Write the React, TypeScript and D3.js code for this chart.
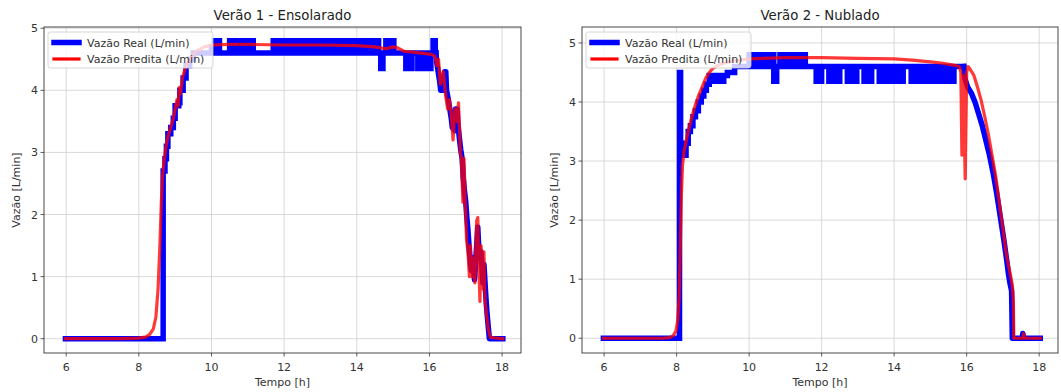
import React from 'react'
import * as d3 from 'd3'

// [t (h), L/min]. Trechos "Step": o valor vale até o ponto seguinte; trechos "Fall": linha contínua.
// Verão 1 - Ensolarado : vazão real
const realSolStep: [number, number][] = [
  [5.98,0],[8.67,2.7],[8.72,2.9],[8.76,3.1],[8.8,3.3],[8.88,3.4],[8.95,3.55],[9.0,3.75],[9.1,3.8],[9.13,4.0],
  [9.22,4.2],[9.3,4.4],[9.4,4.5],[9.5,4.6],[9.85,4.6],[10.0,4.7],
  [10.08,4.8],[10.13,4.6],[10.17,4.8],[10.22,4.6],
  [10.5,4.8],[10.6,4.6],[10.7,4.8],[10.8,4.6],[10.9,4.8],[11.0,4.6],[11.08,4.8],[11.15,4.6],
  [11.7,4.8],[11.8,4.6],[11.9,4.8],[12.0,4.6],[12.1,4.8],[12.2,4.6],[12.3,4.8],[12.4,4.6],[12.5,4.8],[12.6,4.6],[12.68,4.8],[12.76,4.6],
  [12.9,4.8],[13.0,4.6],[13.1,4.8],[13.2,4.6],[13.3,4.8],[13.4,4.6],[13.5,4.8],[13.6,4.6],[13.7,4.8],[13.8,4.6],
  [13.9,4.8],[14.0,4.6],[14.1,4.8],[14.2,4.6],[14.3,4.8],[14.4,4.6],[14.5,4.8],[14.6,4.6],
  [14.66,4.35],[14.72,4.6],[14.8,4.8],[14.88,4.6],[14.95,4.8],[15.02,4.6],
  [15.35,4.35],[15.42,4.6],[15.46,4.35],[15.52,4.6],
  [15.68,4.35],[15.76,4.6],[15.82,4.35],[15.9,4.6],[15.96,4.35],[16.04,4.6],[16.1,4.8],[16.16,4.6],[16.18,4.6],
]
const realSolFall: [number, number][] = [
  [16.18,4.6],[16.2,4.45],[16.24,4.3],[16.28,4.15],[16.31,4.0],[16.4,4.0],[16.42,4.3],[16.45,4.3],[16.47,4.0],[16.52,3.85],
  [16.56,3.7],[16.6,3.55],[16.63,3.4],[16.7,3.35],[16.72,3.7],[16.76,3.7],[16.78,3.5],[16.82,3.25],[16.86,3.05],[16.9,2.9],
  [16.93,2.6],[16.96,2.4],[17.0,2.2],[17.03,1.95],[17.06,1.75],[17.1,1.4],[17.15,1.1],[17.2,1.3],[17.24,0.95],[17.3,1.5],
  [17.33,1.8],[17.37,1.3],[17.42,1.4],[17.47,0.9],[17.5,1.2],[17.55,0.7],[17.58,0.45],[17.61,0.25],[17.65,0],[18.02,0],
]

// Verão 1 - Ensolarado : vazão predita
const predSol: [number, number][] = [
  [5.98,0],[7.5,0],[8.0,0.01],[8.2,0.03],[8.3,0.07],[8.4,0.16],[8.47,0.35],[8.53,0.8],[8.58,1.5],[8.62,2.2],
  [8.65,2.6],[8.7,2.9],[8.75,3.1],[8.8,3.25],[8.85,3.35],[8.9,3.45],[8.95,3.55],[9.0,3.7],[9.05,3.85],[9.08,3.75],
  [9.12,4.05],[9.15,3.95],[9.2,4.2],[9.25,4.3],[9.3,4.4],[9.4,4.5],[9.5,4.58],[9.6,4.64],[9.8,4.7],[10.0,4.73],
  [10.5,4.74],[11,4.74],[12,4.73],[13,4.73],[14,4.72],[14.5,4.7],[14.8,4.67],[15.0,4.7],[15.1,4.69],[15.3,4.63],
  [15.6,4.61],[15.9,4.59],[16.05,4.58],[16.15,4.55],[16.2,4.4],[16.25,4.5],[16.3,4.1],[16.38,4.3],[16.45,3.9],[16.5,3.7],
  [16.55,3.85],[16.6,3.6],[16.65,3.2],[16.7,3.7],[16.75,3.5],[16.8,3.8],[16.85,3.0],[16.88,2.9],[16.92,2.2],[16.95,2.9],
  [16.98,2.3],[17.02,1.6],[17.06,1.4],[17.1,1.0],[17.13,1.5],[17.17,1.0],[17.2,1.3],[17.25,0.9],[17.3,1.9],[17.33,1.95],
  [17.36,1.2],[17.39,0.6],[17.42,1.5],[17.45,1.3],[17.48,0.8],[17.5,1.4],[17.53,0.6],[17.57,0.4],[17.62,0.15],[17.68,0.02],[18.02,0],
]

// Verão 2 - Nublado : vazão real
const realNubStep: [number, number][] = [
  [5.98,0],[8.08,4.5],[8.11,3.3],[8.2,3.1],[8.26,3.3],[8.32,3.5],[8.38,3.6],[8.45,3.75],[8.52,3.85],[8.6,4.0],
  [8.68,4.1],[8.75,4.2],[8.82,4.3],[8.9,4.45],[9.0,4.35],[9.06,4.45],[9.12,4.35],[9.18,4.45],[9.24,4.35],[9.3,4.45],
  [9.4,4.5],[9.6,4.6],
  [10.0,4.8],[10.1,4.6],[10.2,4.8],[10.3,4.6],[10.4,4.8],[10.5,4.6],[10.6,4.8],[10.68,4.35],[10.76,4.6],[10.85,4.8],
  [10.95,4.6],[11.05,4.8],[11.15,4.6],[11.25,4.8],[11.35,4.6],[11.45,4.8],[11.55,4.6],
  [11.85,4.35],[11.92,4.6],[11.95,4.35],[12.0,4.6],
  [12.2,4.35],[12.28,4.6],[12.33,4.35],[12.41,4.6],[12.44,4.35],[12.5,4.6],
  [12.71,4.35],[12.8,4.6],[12.84,4.35],[12.92,4.6],[12.94,4.35],[12.97,4.6],
  [13.17,4.35],[13.25,4.6],[13.29,4.35],[13.38,4.6],
  [13.59,4.35],[13.68,4.6],[13.72,4.35],[13.82,4.6],[13.86,4.35],[13.96,4.6],[14.0,4.35],[14.1,4.6],[14.14,4.35],[14.25,4.6],
  [14.47,4.35],[14.57,4.6],[14.61,4.35],[14.71,4.6],[14.75,4.35],[14.85,4.6],[14.89,4.35],[14.99,4.6],[15.03,4.35],[15.13,4.6],
  [15.17,4.35],[15.27,4.6],[15.31,4.35],[15.41,4.6],[15.45,4.35],[15.55,4.6],[15.58,4.35],[15.65,4.6],[15.92,4.6],
]
const realNubFall: [number, number][] = [
  [15.92,4.6],[15.95,4.4],[16.03,4.25],[16.13,4.15],[16.23,4.0],[16.33,3.8],[16.43,3.6],[16.53,3.35],[16.63,3.1],[16.73,2.8],
  [16.83,2.45],[16.93,2.05],[17.03,1.65],[17.11,1.3],[17.15,1.1],[17.19,0.95],[17.24,0.8],[17.26,0],[17.53,0],[17.55,0.08],
  [17.57,0],[18.03,0],
]

// Verão 2 - Nublado : vazão predita
const predNub: [number, number][] = [
  [5.98,0],[7.6,0],[7.8,0.01],[7.9,0.04],[7.98,0.12],[8.03,0.3],[8.07,0.7],[8.1,1.5],[8.13,2.4],[8.16,2.9],
  [8.2,3.15],[8.25,3.3],[8.3,3.45],[8.4,3.7],[8.5,3.92],[8.6,4.1],[8.7,4.25],[8.8,4.4],[8.9,4.5],[9.0,4.57],
  [9.2,4.64],[9.5,4.69],[10,4.73],[11,4.75],[12,4.75],[13,4.74],[14,4.73],[14.5,4.71],[15,4.68],[15.3,4.66],
  [15.6,4.63],[15.8,4.6],[15.84,4.5],[15.87,3.1],[15.91,4.45],[15.96,2.7],[16.0,4.5],[16.04,4.6],[16.1,4.55],[16.2,4.45],
  [16.3,4.25],[16.4,4.03],[16.5,3.75],[16.6,3.45],[16.7,3.1],[16.8,2.75],[16.9,2.3],[17.0,1.85],[17.1,1.4],[17.2,1.1],
  [17.26,0.9],[17.29,0.6],[17.3,0],[17.55,0],[17.57,0.08],[17.6,0],[18.03,0],
]

const xTicks = [6, 8, 10, 12, 14, 16, 18]
const yTicks = [0, 1, 2, 3, 4, 5]
const titles = ['Verão 1 - Ensolarado', 'Verão 2 - Nublado']
const legendLabels = ['Vazão Real (L/min)', 'Vazão Predita (L/min)']

const FONT = 'DejaVu Sans, sans-serif'
const W = 1061, H = 392
const FS = 11

type Pt = [number, number]

function Panel({ title, realStep, realFall, pred, x0, x1, yDom }:{ title:string, realStep:Pt[], realFall:Pt[], pred:Pt[], x0:number, x1:number, yDom:[number,number] }){
  const top = 27, bottom = 353
  const x = d3.scaleLinear().domain([5.39, 18.52]).range([x0, x1])
  const y = d3.scaleLinear().domain(yDom).range([bottom, top])
  const stepLine = d3.line<Pt>().x(d=>x(d[0])).y(d=>y(d[1])).curve(d3.curveStepAfter)
  const line = d3.line<Pt>().x(d=>x(d[0])).y(d=>y(d[1]))
  const cx = (x0 + x1) / 2
  const cy = (top + bottom) / 2
  const lx = x0 + 4, ly = top + 5
  return (
    <g>
      <defs>
        <clipPath id={'clip' + x0}><rect x={x0} y={top} width={x1 - x0} height={bottom - top} /></clipPath>
      </defs>
      {xTicks.map(t => <line key={'gx'+t} x1={x(t)} x2={x(t)} y1={top} y2={bottom} stroke="#cfcfcf" strokeWidth={0.8} />)}
      {yTicks.map(t => <line key={'gy'+t} x1={x0} x2={x1} y1={y(t)} y2={y(t)} stroke="#cfcfcf" strokeWidth={0.8} />)}
      <g clipPath={`url(#clip${x0})`}>
        <path d={stepLine(realStep) || ''} fill="none" stroke="#0000ff" strokeWidth={5.5} strokeLinejoin="miter" strokeLinecap="square" />
        <path d={line(realFall) || ''} fill="none" stroke="#0000ff" strokeWidth={5.5} strokeLinejoin="round" strokeLinecap="square" />
        <path d={line(pred) || ''} fill="none" stroke="#ff0000" strokeOpacity={0.78} strokeWidth={3.2} strokeLinejoin="round" strokeLinecap="square" />
      </g>
      <rect x={x0} y={top} width={x1 - x0} height={bottom - top} fill="none" stroke="#333" strokeWidth={0.9} />
      {xTicks.map(t => (
        <g key={'tx'+t}>
          <line x1={x(t)} x2={x(t)} y1={bottom} y2={bottom + 3.5} stroke="#333" strokeWidth={0.8} />
          <text x={x(t)} y={bottom + 18} textAnchor="middle" fontSize={FS} fill="#333">{t}</text>
        </g>
      ))}
      {yTicks.map(t => (
        <g key={'ty'+t}>
          <line x1={x0 - 3.5} x2={x0} y1={y(t)} y2={y(t)} stroke="#333" strokeWidth={0.8} />
          <text x={x0 - 6} y={y(t) + 4} textAnchor="end" fontSize={FS} fill="#333">{t}</text>
        </g>
      ))}
      <text x={cx} y={20} textAnchor="middle" fontSize={13.3} fill="#222">{title}</text>
      <text x={cx} y={386} textAnchor="middle" fontSize={FS} fill="#333">Tempo [h]</text>
      <text transform={`translate(${x0 - 24},${cy}) rotate(-90)`} textAnchor="middle" fontSize={FS} fill="#333">Vazão [L/min]</text>
      <rect x={lx} y={ly} width={165} height={36} rx={2.5} fill="#fff" fillOpacity={0.8} stroke="#ccc" strokeWidth={0.8} />
      <line x1={lx + 6} x2={lx + 31} y1={ly + 10.5} y2={ly + 10.5} stroke="#0000ff" strokeWidth={5.5} strokeLinecap="square" />
      <text x={lx + 39} y={ly + 14.5} fontSize={FS} fill="#333">{legendLabels[0]}</text>
      <line x1={lx + 6} x2={lx + 31} y1={ly + 27} y2={ly + 27} stroke="#ff0000" strokeWidth={3.2} strokeLinecap="square" />
      <text x={lx + 39} y={ly + 31} fontSize={FS} fill="#333">{legendLabels[1]}</text>
    </g>
  )
}

export default function App(){
  return (
    <svg width={W} height={H} viewBox={`0 0 ${W} ${H}`} style={{position:'absolute', left:0, top:0, background:'#fff'}} fontFamily={FONT}>
      <rect width={W} height={H} fill="#fff" />
      <Panel title={titles[0]} realStep={realSolStep} realFall={realSolFall} pred={predSol} x0={44} x1={521} yDom={[-0.23, 5.02]} />
      <Panel title={titles[1]} realStep={realNubStep} realFall={realNubFall} pred={predNub} x0={582} x1={1058} yDom={[-0.25, 5.27]} />
    </svg>
  )
}
